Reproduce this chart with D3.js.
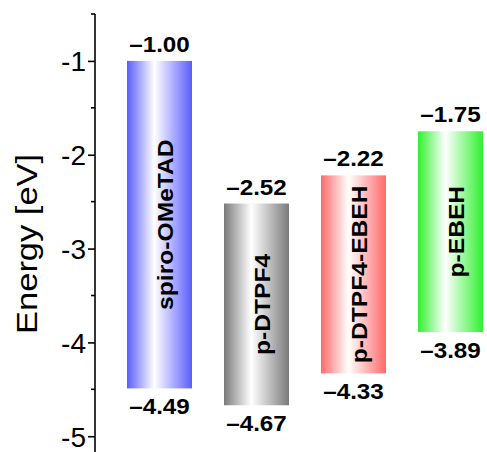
<!DOCTYPE html>
<html>
<head>
<meta charset="utf-8">
<script src="https://cdn.jsdelivr.net/npm/d3@7"></script>
<style>
  html, body { margin: 0; padding: 0; background: #fff; }
  svg { display: block; font-family: "Liberation Sans", Arial, sans-serif; }
</style>
</head>
<body>
<svg id="chart" width="487" height="452"></svg>
<script>
// Energy levels (eV) of the hole-transport materials
const materials = ["spiro-OMeTAD", "p-DTPF4", "p-DTPF4-EBEH", "p-EBEH"];
const lumo = [-1.00, -2.52, -2.22, -1.75];
const homo = [-4.49, -4.67, -4.33, -3.89];
const barColors = ["#5c5cff", "#7a7a7a", "#ff6a6a", "#30f030"];
const yTicks = [-1, -2, -3, -4, -5];
const yMinorTicks = [-0.5, -1.5, -2.5, -3.5, -4.5];

const svg = d3.select("#chart");
const W = 487, H = 452;
const axisX = 95;

const y = d3.scaleLinear().domain([-5.2, -0.5]).range([455, 14]);
const x = d3.scaleBand().domain(materials).range([111, 499])
  .paddingInner(0.33).paddingOuter(0.165);

// Horizontal gradients: saturated edges, white core slightly left of centre
const defs = svg.append("defs");
materials.forEach((m, i) => {
  const g = defs.append("linearGradient")
    .attr("id", "grad" + i)
    .attr("x1", "0%").attr("x2", "100%").attr("y1", "0%").attr("y2", "0%");
  g.append("stop").attr("offset", "0%").attr("stop-color", barColors[i]);
  g.append("stop").attr("offset", "42%").attr("stop-color", "#ffffff");
  g.append("stop").attr("offset", "100%").attr("stop-color", barColors[i]);
});

const data = materials.map((m, i) => ({ name: m, top: lumo[i], bottom: homo[i], i }));
const fmt = v => "\u2013" + Math.abs(v).toFixed(2);
const cx = d => x(d.name) + x.bandwidth() / 2;

// Bars spanning LUMO to HOMO
svg.append("g").selectAll("rect").data(data).join("rect")
  .attr("x", d => x(d.name))
  .attr("width", x.bandwidth())
  .attr("y", d => y(d.top))
  .attr("height", d => y(d.bottom) - y(d.top))
  .attr("fill", d => `url(#grad${d.i})`);

// Material names, rotated inside each bar
svg.append("g").selectAll("text").data(data).join("text")
  .attr("transform", d => `translate(${cx(d) + 13},${(y(d.top) + y(d.bottom)) / 2}) rotate(-90) scale(1.12,1)`)
  .attr("text-anchor", "middle")
  .attr("font-weight", "bold")
  .attr("font-size", 22)
  .text(d => d.name);

// LUMO values above the bars
svg.append("g").selectAll("text").data(data).join("text")
  .attr("transform", d => `translate(${cx(d)},${y(d.top) - 9}) scale(1.1,1)`)
  .attr("text-anchor", "middle")
  .attr("font-weight", "bold")
  .attr("font-size", 22)
  .text(d => fmt(d.top));

// HOMO values below the bars
svg.append("g").selectAll("text").data(data).join("text")
  .attr("transform", d => `translate(${cx(d)},${y(d.bottom) + 26}) scale(1.1,1)`)
  .attr("text-anchor", "middle")
  .attr("font-weight", "bold")
  .attr("font-size", 22)
  .text(d => fmt(d.bottom));

// Left axis with major and minor ticks
const axis = svg.append("g").attr("transform", `translate(${axisX},0)`);
axis.call(d3.axisLeft(y).tickValues(yTicks).tickSize(7).tickPadding(2)
  .tickFormat(d => String(d)));
axis.call(g => g.select(".domain").attr("stroke-width", 1.6).attr("d", `M0,${y(-0.5)}V${H + 5}`));
axis.selectAll(".tick line").attr("stroke-width", 1.6);
axis.selectAll(".tick text").attr("font-size", 28).attr("font-family", "Liberation Sans, Arial, sans-serif").attr("dy", "0.35em");
axis.selectAll(".minor").data(yMinorTicks).join("line")
  .attr("class", "minor")
  .attr("x1", -4).attr("x2", 0)
  .attr("y1", d => y(d)).attr("y2", d => y(d))
  .attr("stroke", "#000").attr("stroke-width", 1.6);

// Axis title
svg.append("text")
  .attr("transform", `translate(37,${y(-2.95)}) rotate(-90) scale(1.15,1)`)
  .attr("text-anchor", "middle")
  .attr("font-size", 30)
  .text("Energy [eV]");
</script>
</body>
</html>
